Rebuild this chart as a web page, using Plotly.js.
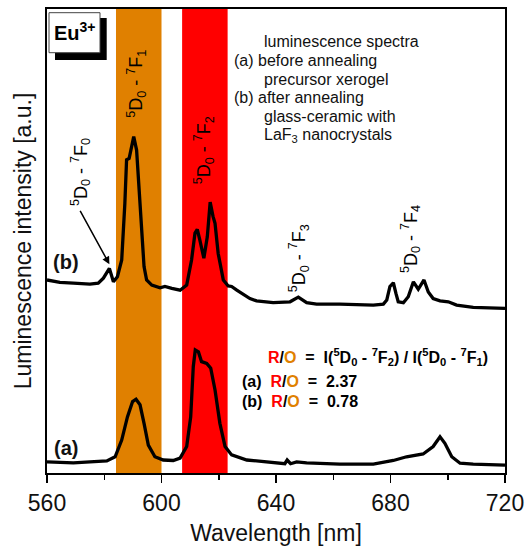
<!DOCTYPE html>
<html><head><meta charset="utf-8">
<script src="https://cdn.plot.ly/plotly-3.0.1.min.js"></script>
<style>html,body{margin:0;padding:0;background:#fff}#chart{width:527px;height:546px}</style>
</head><body><div id="chart"></div>
<script>
// ---- data ----
const wavelengthB = [560.0,564.5,569.2,575.0,577.9,579.7,581.8,583.2,584.6,586.1,587.2,587.8,588.7,589.4,590.3,591.3,592.2,593.1,593.9,594.8,596.6,599.5,601.2,603.6,606.5,608.8,610.5,611.7,612.5,613.4,614.8,616.0,617.0,618.0,618.7,619.8,621.6,623.3,624.5,626.3,628.6,630.9,633.2,639.0,644.9,647.8,650.7,654.2,662.3,674.0,677.5,678.7,679.8,681.0,681.9,682.7,684.5,686.2,688.0,689.7,691.7,693.2,694.9,697.3,700.2,703.1,708.9,720.0];
const intensityB  = [41.6,41.1,40.9,40.7,40.9,42.0,44.1,41.2,42.3,45.9,58.1,67.5,67.8,70.3,72.5,69.6,61.7,52.4,44.5,41.6,40.5,39.9,40.2,39.8,39.4,40.5,45.9,51.7,52.5,50.2,46.3,50.9,58.4,55.3,53.8,47.3,41.6,40.3,40.2,39.4,38.4,37.6,37.1,36.7,36.9,37.9,36.7,36.4,36.4,36.2,36.4,37.3,40.2,41.0,38.7,36.9,36.7,38.0,41.2,39.6,41.6,39.0,37.6,37.1,36.9,36.2,35.7,35.5];
const wavelengthA = [560.0,569.2,575.0,580.9,583.8,586.1,588.1,589.9,591.1,592.5,593.9,595.4,597.7,600.6,604.1,606.5,608.8,610.2,611.1,611.8,612.9,614.0,615.8,617.2,618.7,620.4,622.2,624.5,629.8,639.0,643.1,643.9,645.1,647.2,650.7,662.3,674.0,681.0,685.6,691.4,694.9,697.3,699.0,701.4,704.3,708.9,720.0];
const intensityA  = [2.4,2.2,2.4,2.6,3.5,7.1,12.1,15.4,15.9,14.7,10.7,6.0,3.5,2.8,2.7,3.2,5.7,12.1,22.9,26.5,26.1,24.0,23.6,22.6,17.9,10.7,5.7,3.9,2.8,2.2,2.0,2.8,2.0,2.4,2.2,1.9,1.9,2.7,3.5,4.1,5.7,7.8,6.4,3.5,2.1,1.9,1.7];
const orangeBand = [584.1, 600.0];   // 5D0-7F1 region
const redBand    = [607.2, 623.1];   // 5D0-7F2 region
const xTicks = [560, 600, 640, 680, 720];
const peakF0 = [581.8, 45.0];        // arrow target (5D0-7F0)
const ratioA = '2.37', ratioB = '0.78';

// ---- layout helpers ----
const W=527, H=546, M={l:47, r:22, t:9, b:73};
const PW=W-M.l-M.r, PH=H-M.t-M.b;
const px = x => (x - M.l) / PW;
const py = y => (H - M.b - y) / PH;
const FONT = 'Liberation Sans, Arial, sans-serif';
const RED = '#ff0000', ORANGE = '#e08000';

const traces = [
  {x: wavelengthB, y: intensityB, mode:'lines', line:{color:'#000', width:3.3}, name:'(b)', hoverinfo:'skip'},
  {x: wavelengthA, y: intensityA, mode:'lines', line:{color:'#000', width:3.3}, name:'(a)', hoverinfo:'skip'}
];

const trans = (a,b) => `<sup>5</sup>D<sub>0</sub> - <sup>7</sup>F<sub>${b}</sub>`;
const rot = (x, y, k) => ({xref:'paper', yref:'paper', x:px(x), y:py(y), text:trans(0,k), textangle:-90,
  showarrow:false, xanchor:'center', yanchor:'middle', font:{size:18, color:'#000', family:FONT}});
const txt = (x, y, t, opts={}) => Object.assign({xref:'paper', yref:'paper', x:px(x), y:py(y), text:t,
  showarrow:false, xanchor:'left', yanchor:'middle', font:{size:16, color:'#111', family:FONT}}, opts);
const RO = `<span style="color:${RED}">R</span>/<span style="color:${ORANGE}">O</span>`;
const sp = '\u00a0\u00a0';

const annotations = [
  {xref:'paper', yref:'paper', x:px(75), y:py(32), text:'<b>Eu<sup>3+</sup></b>', showarrow:false,
   xanchor:'center', yanchor:'middle', font:{size:20, color:'#000', family:FONT}},
  rot(80, 172, 0), rot(135.7, 84, 1), rot(203.3, 150, 2), rot(298.3, 258, 3), rot(410, 239, 4),
  {x: peakF0[0], y: peakF0[1], xref:'x', yref:'y', ax:571.3, ay:56.8, axref:'x', ayref:'y', text:'',
   showarrow:true, arrowhead:2, arrowsize:1, arrowwidth:1.5, arrowcolor:'#000', standoff:0},
  txt(261.7, 41.7, 'luminescence spectra'),
  txt(231.7, 60, '(a) before annealing'),
  txt(261.7, 79.3, 'precursor xerogel'),
  txt(231.7, 97.3, '(b) after annealing'),
  txt(261.7, 116, 'glass-ceramic with'),
  txt(261.7, 135, 'LaF<sub>3</sub> nanocrystals'),
  txt(266, 356.7, `<b>${RO}${sp}=${sp}I(${trans(0,2)}) / I(${trans(0,1)})</b>`, {font:{size:16,color:'#000',family:FONT}}),
  txt(240, 381.7, `<b>(a)${sp}${RO}${sp}=${sp}${ratioA}</b>`, {font:{size:16,color:'#000',family:FONT}}),
  txt(240, 401.7, `<b>(b)${sp}${RO}${sp}=${sp}${ratioB}</b>`, {font:{size:16,color:'#000',family:FONT}}),
  {xref:'paper', yref:'paper', x:px(65.5), y:py(261.7), text:'<b>(b)</b>', showarrow:false, xanchor:'center', yanchor:'middle', font:{size:20,color:'#111',family:FONT}},
  {xref:'paper', yref:'paper', x:px(65.5), y:py(448), text:'<b>(a)</b>', showarrow:false, xanchor:'center', yanchor:'middle', font:{size:20,color:'#111',family:FONT}}
];

const shapes = [
  {type:'rect', xref:'x', yref:'paper', x0:orangeBand[0], x1:orangeBand[1], y0:0, y1:1, fillcolor:ORANGE, line:{width:0}, layer:'below'},
  {type:'rect', xref:'x', yref:'paper', x0:redBand[0], x1:redBand[1], y0:0, y1:1, fillcolor:RED, line:{width:0}, layer:'below'},
  {type:'rect', xref:'paper', yref:'paper', x0:px(55), x1:px(106.7), y0:py(60), y1:py(18), fillcolor:'#000', line:{width:0}, layer:'above'},
  {type:'rect', xref:'paper', yref:'paper', x0:px(49), x1:px(100), y0:py(52.7), y1:py(12.7), fillcolor:'#fff', line:{width:1, color:'#444'}, layer:'above'}
];

const layout = {
  width: W, height: H, margin: M, showlegend:false,
  paper_bgcolor:'#fff', plot_bgcolor:'#fff',
  font:{family:FONT, color:'#111'},
  xaxis:{range:[560,720], tickvals:xTicks, ticks:'outside', ticklen:8, tickwidth:1.5, tickcolor:'#000',
    showline:true, linewidth:2, linecolor:'#000', mirror:true, showgrid:false, zeroline:false, automargin:false,
    tickfont:{size:23, color:'#111', family:FONT},
    minor:{dtick:20, tick0:560, ticks:'outside', ticklen:5, tickwidth:1.5, tickcolor:'#000', showgrid:false},
    title:{text:'Wavelength [nm]', font:{size:23, color:'#111', family:FONT}, standoff:10}},
  yaxis:{range:[0,100], showticklabels:false, ticks:'', showline:true, linewidth:2, linecolor:'#000', mirror:true,
    showgrid:false, zeroline:false, automargin:false,
    title:{text:'Luminescence intensity [a.u.]', font:{size:23, color:'#111', family:FONT}, standoff:7}},
  shapes, annotations
};
Plotly.newPlot('chart', traces, layout, {displayModeBar:false, staticPlot:true});
</script></body></html>
